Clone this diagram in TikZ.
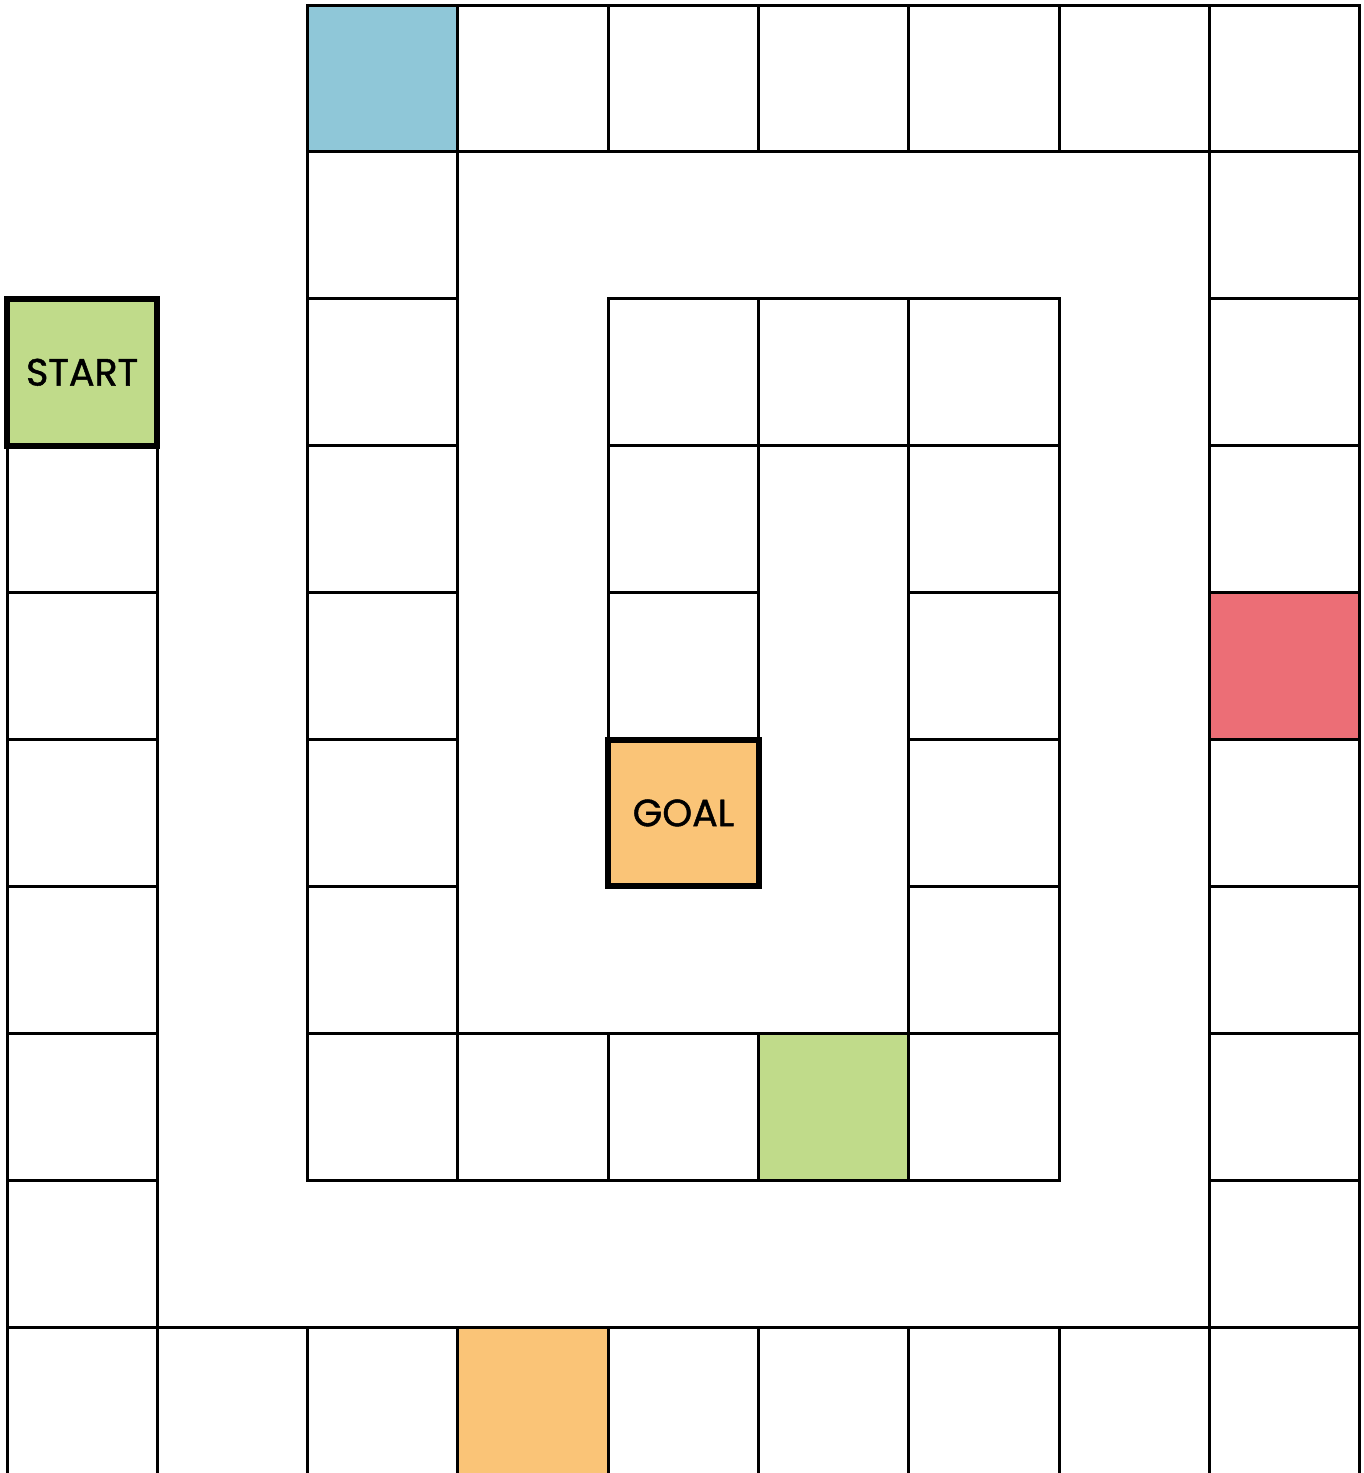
\documentclass[tikz,border=0pt]{standalone}
\usepackage{fontspec}
\setmainfont{Poppins}
\newfontfamily\labfont{Poppins}[FakeBold=1.2]
\definecolor{cblue}{HTML}{8FC7D8}
\definecolor{cgreen}{HTML}{C0DB8A}
\definecolor{corange}{HTML}{FAC477}
\definecolor{cred}{HTML}{EC6E76}
\begin{document}
\begin{tikzpicture}[x=1pt,y=1pt,
  cellbox/.style={draw=black,line width=3pt,rectangle,minimum width=150.33pt,minimum height=146.9pt,inner sep=0pt,outer sep=0pt,fill=white},
  markbox/.style={cellbox,line width=6pt,font=\labfont\fontsize{38}{38}\selectfont}]
\useasboundingbox (0,0) rectangle (1364,-1473);
\clip (0,0) rectangle (1364,-1473);
\newcommand\cellat[4]{\node[cellbox,#4] (#1) at ({7+150.33*(#2+0.5)},{-(5+146.9*(#3+0.5))}) {};}
% row 0
\cellat{r0c2}{2}{0}{fill=cblue}
\cellat{r0c3}{3}{0}{}
\cellat{r0c4}{4}{0}{}
\cellat{r0c5}{5}{0}{}
\cellat{r0c6}{6}{0}{}
\cellat{r0c7}{7}{0}{}
\cellat{r0c8}{8}{0}{}
% row 1
\cellat{r1c2}{2}{1}{}
\cellat{r1c8}{8}{1}{}
% row 2
\cellat{r2c2}{2}{2}{}
\cellat{r2c4}{4}{2}{}
\cellat{r2c5}{5}{2}{}
\cellat{r2c6}{6}{2}{}
\cellat{r2c8}{8}{2}{}
% row 3
\cellat{r3c0}{0}{3}{}
\cellat{r3c2}{2}{3}{}
\cellat{r3c4}{4}{3}{}
\cellat{r3c6}{6}{3}{}
\cellat{r3c8}{8}{3}{}
% row 4
\cellat{r4c0}{0}{4}{}
\cellat{r4c2}{2}{4}{}
\cellat{r4c4}{4}{4}{}
\cellat{r4c6}{6}{4}{}
\cellat{r4c8}{8}{4}{fill=cred}
% row 5
\cellat{r5c0}{0}{5}{}
\cellat{r5c2}{2}{5}{}
\cellat{r5c6}{6}{5}{}
\cellat{r5c8}{8}{5}{}
% row 6
\cellat{r6c0}{0}{6}{}
\cellat{r6c2}{2}{6}{}
\cellat{r6c6}{6}{6}{}
\cellat{r6c8}{8}{6}{}
% row 7
\cellat{r7c0}{0}{7}{}
\cellat{r7c2}{2}{7}{}
\cellat{r7c3}{3}{7}{}
\cellat{r7c4}{4}{7}{}
\cellat{r7c5}{5}{7}{fill=cgreen}
\cellat{r7c6}{6}{7}{}
\cellat{r7c8}{8}{7}{}
% row 8
\cellat{r8c0}{0}{8}{}
\cellat{r8c8}{8}{8}{}
% row 9
\cellat{r9c0}{0}{9}{}
\cellat{r9c1}{1}{9}{}
\cellat{r9c2}{2}{9}{}
\cellat{r9c3}{3}{9}{fill=corange}
\cellat{r9c4}{4}{9}{}
\cellat{r9c5}{5}{9}{}
\cellat{r9c6}{6}{9}{}
\cellat{r9c7}{7}{9}{}
\cellat{r9c8}{8}{9}{}
% special cells
\node[markbox,fill=cgreen] (start) at ({7+150.33*0.5},{-(5+146.9*2.5)}) {START};
\node[markbox,fill=corange] (goal) at ({7+150.33*4.5},{-(5+146.9*5.5)}) {GOAL};
\end{tikzpicture}
\end{document}
